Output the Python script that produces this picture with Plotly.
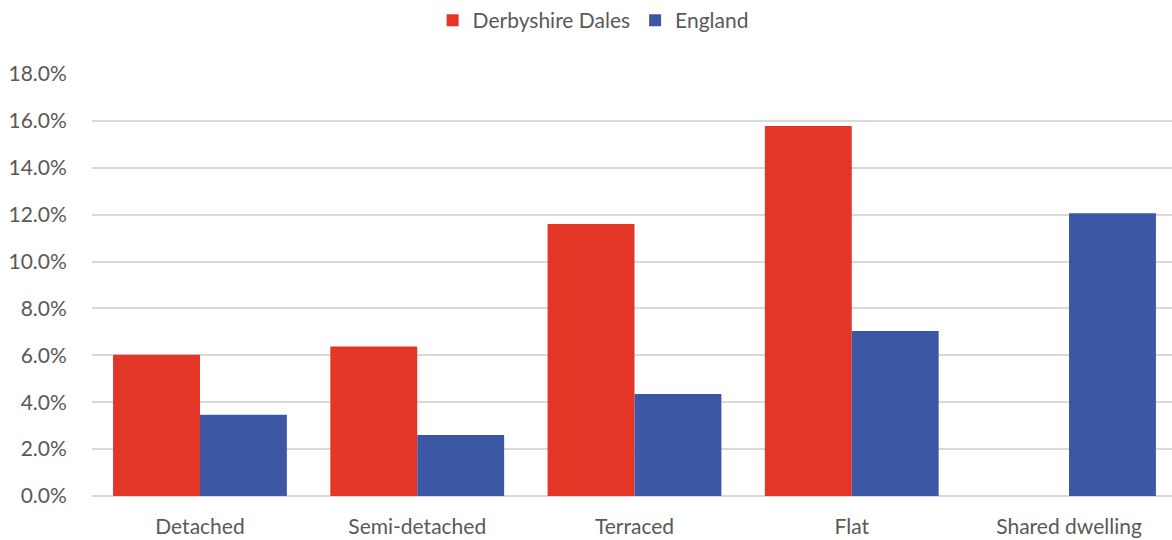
import plotly.graph_objects as go

categories = ["Detached", "Semi-detached", "Terraced", "Flat", "Shared dwelling"]
derbyshire_dales = [6.02, 6.38, 11.6, 15.78, None]
england = [3.47, 2.6, 4.35, 7.04, 12.06]
y_ticks = [0, 2, 4, 6, 8, 10, 12, 14, 16, 18]

font_family = "Lato, Open Sans, Liberation Sans, sans-serif"
text_color = "#595959"

fig = go.Figure()
fig.add_trace(go.Bar(name="Derbyshire Dales", x=categories, y=derbyshire_dales,
                     marker=dict(color="#E33626", line=dict(width=0))))
fig.add_trace(go.Bar(name="England", x=categories, y=england,
                     marker=dict(color="#3C57A4", line=dict(width=0))))

fig.update_layout(
    width=1172, height=540,
    margin=dict(l=92, r=0, t=74, b=44, autoexpand=False),
    paper_bgcolor="white", plot_bgcolor="white",
    barmode="group", bargap=0.2, bargroupgap=0,
    font=dict(family=font_family, size=21, color=text_color),
    legend=dict(orientation="h", x=0.464, xanchor="center", y=1.0, yanchor="top",
                yref="container", font=dict(size=21, color=text_color),
                itemwidth=30, traceorder="normal"),
    showlegend=True,
)
fig.update_xaxes(range=[-0.497, 4.474], showgrid=False, showline=False, ticks="outside", ticklen=12,
                 tickcolor="rgba(0,0,0,0)", tickfont=dict(size=21, color=text_color))
fig.update_yaxes(range=[0, 18], tickvals=y_ticks, ticktext=[f"{v:.1f}%" for v in y_ticks],
                 showgrid=True, gridcolor="#D9D9D9", gridwidth=1.5,
                 zeroline=True, zerolinecolor="#D9D9D9", zerolinewidth=1.5,
                 showline=False, ticks="outside", ticklen=20, tickcolor="rgba(0,0,0,0)",
                 tickfont=dict(size=21, color=text_color))

fig.write_html("out.html", config={"displayModeBar": False},
               post_script="document.body.style.margin='0px';")
